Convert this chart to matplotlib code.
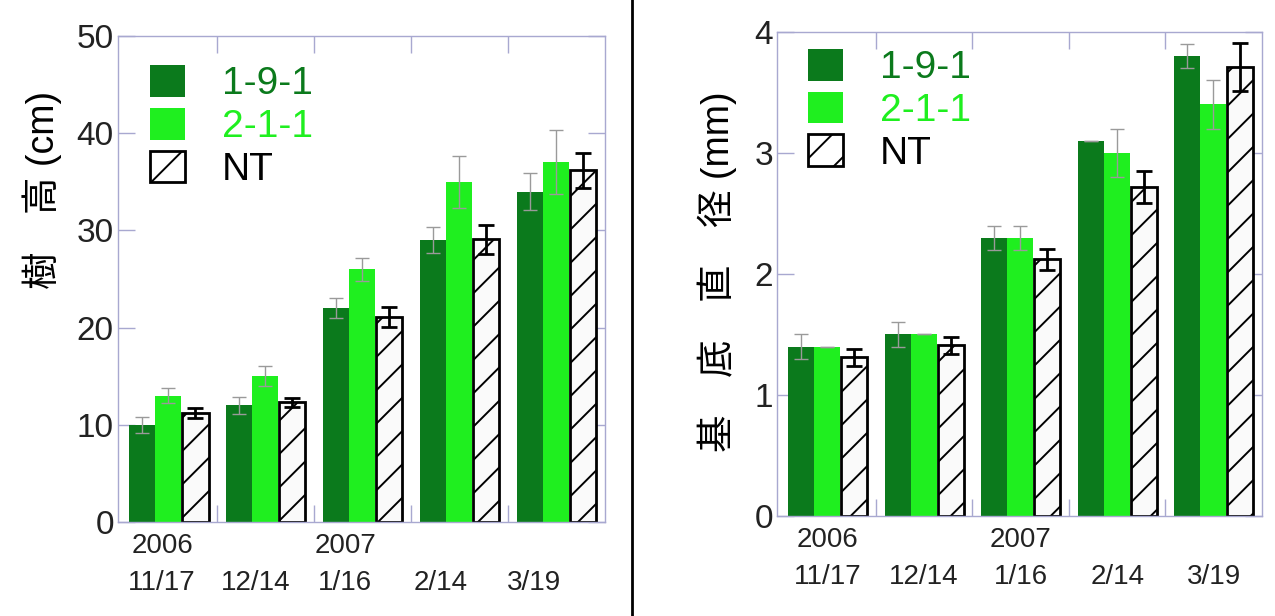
import numpy as np
import matplotlib.pyplot as plt
from matplotlib.patches import Patch

plt.rcParams['font.family'] = ['Liberation Sans', 'Noto Sans CJK JP', 'DejaVu Sans']
plt.rcParams['hatch.linewidth'] = 1.4

DARK = '#0b7a1c'
LIGHT = '#1fef1f'
SPINE = '#a8a8d0'

# data
groups = ['11/17', '12/14', '1/16', '2/14', '3/19']
years = ['2006', '', '2007', '', '']
series = ['1-9-1', '2-1-1', 'NT']

height_191 = [10.0, 12.0, 22.0, 29.0, 34.0]
height_211 = [13.0, 15.0, 26.0, 35.0, 37.0]
height_nt = [11.2, 12.3, 21.1, 29.1, 36.2]
height_191_err = [0.8, 0.9, 1.0, 1.3, 1.9]
height_211_err = [0.8, 1.0, 1.2, 2.7, 3.3]
height_nt_err = [0.55, 0.5, 1.0, 1.5, 1.8]

diam_191 = [1.4, 1.5, 2.3, 3.1, 3.8]
diam_211 = [1.4, 1.5, 2.3, 3.0, 3.4]
diam_nt = [1.31, 1.41, 2.12, 2.72, 3.71]
diam_191_err = [0.1, 0.1, 0.1, 0.0, 0.1]
diam_211_err = [0.0, 0.0, 0.1, 0.2, 0.2]
diam_nt_err = [0.07, 0.07, 0.09, 0.13, 0.2]

W = 0.27
offsets = [-0.275, -0.005, 0.275]


def draw_panel(ax, vals, errs, ymax, yticks, ylabel, label_pos, ylabel_xy, legend_anchor):
    x = np.arange(len(groups))
    ax.bar(x + offsets[0], vals[0], W, color=DARK, zorder=2)
    ax.bar(x + offsets[1], vals[1], W, color=LIGHT, zorder=2)
    ax.bar(x + offsets[2], vals[2], W, facecolor='#fafafa', edgecolor='black',
           hatch='/', linewidth=2, zorder=2)
    ax.errorbar(x + offsets[0], vals[0], yerr=errs[0], fmt='none', ecolor='#9a9a9a',
                elinewidth=1, capsize=5, zorder=3)
    ax.errorbar(x + offsets[1], vals[1], yerr=errs[1], fmt='none', ecolor='#9a9a9a',
                elinewidth=1, capsize=5, zorder=3)
    ax.errorbar(x + offsets[2], vals[2], yerr=errs[2], fmt='none', ecolor='black',
                elinewidth=2, capsize=6, capthick=2, zorder=3)

    ax.set_xlim(-0.525, 4.5)
    ax.set_ylim(0, ymax)
    ax.set_yticks(yticks)
    ax.tick_params(axis='y', direction='in', length=12, width=1, color=SPINE,
                   labelsize=24, labelcolor='#222222', pad=3, right=True)
    ax.set_xticks(x[:-1] + 0.5)
    ax.set_xticks(label_pos, minor=True)
    ax.set_xticklabels([y + '\n' + g for y, g in zip(years, groups)], minor=True,
                       fontsize=20, ha='center', color='#222222', linespacing=1.55)
    ax.set_xticklabels([])
    ax.tick_params(axis='x', which='major', direction='in', length=12, width=1,
                   color=SPINE, top=True)
    ax.tick_params(axis='x', which='minor', length=0, pad=8)
    for s in ax.spines.values():
        s.set_color(SPINE)
        s.set_linewidth(1)
    ax.set_ylabel(ylabel, fontsize=27, va='center', ha='center')
    ax.yaxis.set_label_coords(*ylabel_xy)

    handles = [Patch(facecolor=DARK), Patch(facecolor=LIGHT),
               Patch(facecolor='white', edgecolor='black', hatch='/', linewidth=2)]
    leg = ax.legend(handles, series, loc='upper left', bbox_to_anchor=legend_anchor,
                    frameon=False, fontsize=28, handlelength=0.9, handleheight=0.88,
                    handletextpad=0.95, labelspacing=0.14, borderaxespad=0, borderpad=0)
    for t, c in zip(leg.get_texts(), [DARK, LIGHT, 'black']):
        t.set_color(c)


fig = plt.figure(figsize=(12.75, 6.16), dpi=100)
ax1 = fig.add_axes([0.0925, 0.1526, 0.382, 0.789])
ax2 = fig.add_axes([0.6094, 0.1623, 0.3804, 0.786])

draw_panel(ax1, [height_191, height_211, height_nt],
           [height_191_err, height_211_err, height_nt_err],
           50, [0, 10, 20, 30, 40, 50], '樹　高 (cm)',
           [-0.07, 0.9, 1.82, 2.81, 3.77], (-0.156, 0.683), (0.066, 0.94))
draw_panel(ax2, [diam_191, diam_211, diam_nt],
           [diam_191_err, diam_211_err, diam_nt_err],
           4, [0, 1, 2, 3, 4], '基　底　直　径 (mm)',
           [0, 1, 2, 3, 4], (-0.124, 0.505), (0.064, 0.965))

# divider between the two panels
fig.add_artist(plt.Line2D([0.4957, 0.4957], [0, 1], color='black', linewidth=2))

fig.savefig('out.png', dpi=100, facecolor='white')
